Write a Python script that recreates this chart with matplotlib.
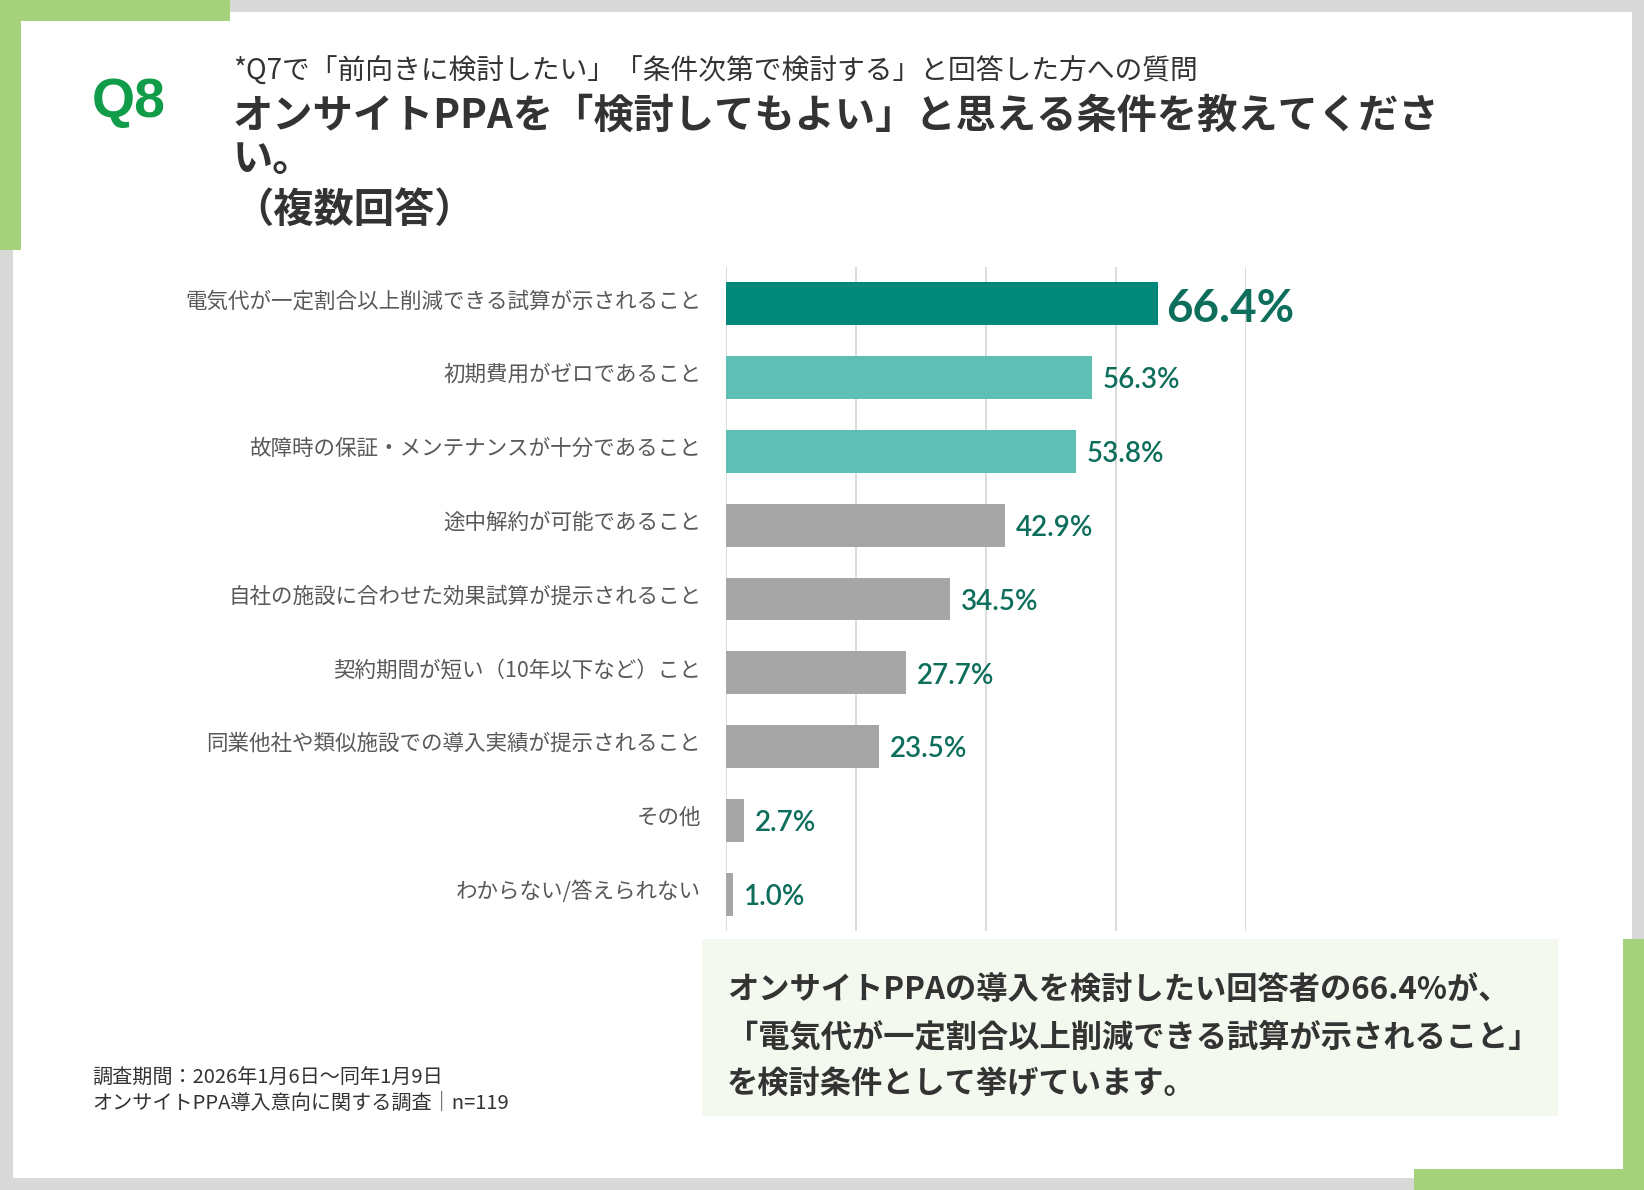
import matplotlib
matplotlib.use("Agg")
import matplotlib.pyplot as plt
from matplotlib.patches import Rectangle

plt.rcParams['font.family'] = ['Noto Sans CJK JP', 'DejaVu Sans']

# data
categories = [
    "電気代が一定割合以上削減できる試算が示されること",
    "初期費用がゼロであること",
    "故障時の保証・メンテナンスが十分であること",
    "途中解約が可能であること",
    "自社の施設に合わせた効果試算が提示されること",
    "契約期間が短い（10年以下など）こと",
    "同業他社や類似施設での導入実績が提示されること",
    "その他",
    "わからない/答えられない",
]
values = [66.4, 56.3, 53.8, 42.9, 34.5, 27.7, 23.5, 2.7, 1.0]
bar_colors = ["#00897a", "#5ebfb5", "#5ebfb5"] + ["#a6a6a6"] * 6

W, H = 1644, 1190
fig = plt.figure(figsize=(W / 100, H / 100), dpi=100)
fig.patch.set_facecolor("#d9d9d9")


def rect(x, y, w, h, color):
    # pixel coords measured from the top-left corner
    fig.add_artist(Rectangle((x / W, 1 - (y + h) / H), w / W, h / H,
                             transform=fig.transFigure, color=color, lw=0, zorder=0))


def txt(x, y, s, **kw):
    fig.text(x / W, 1 - y / H, s, va="center", **kw)


rect(13, 12, 1619, 1166, "white")
green = "#a5d27a"
rect(0, 0, 230, 21, green)
rect(0, 0, 21, 250, green)
rect(1623, 939, 21, 251, green)
rect(1414, 1169, 230, 21, green)
rect(702, 939, 856, 177, "#f4f9ef")

# header
txt(92, 103, "Q8", fontsize=40, fontweight="bold", color="#109c48",
    family=["Liberation Sans", "DejaVu Sans"])
txt(233, 72, "*Q7で「前向きに検討したい」「条件次第で検討する」と回答した方への質問",
    fontsize=20, color="#333333")
txt(233, 116, "オンサイトPPAを「検討してもよい」と思える条件を教えてくださ",
    fontsize=29, fontweight="bold", color="#333333")
txt(233, 160, "い。", fontsize=29, fontweight="bold", color="#333333")
txt(233, 210, "（複数回答）", fontsize=29, fontweight="bold", color="#333333")

# chart
ax = fig.add_axes([726 / W, 1 - 931 / H, 520 / W, 664 / H])
ax.set_facecolor("none")
y = list(range(len(categories)))
ax.barh(y, values, height=0.58, color=bar_colors, zorder=3)
ax.set_xlim(0, 80)
ax.set_ylim(len(categories) - 0.5, -0.5)
ax.set_xticks([0, 20, 40, 60, 80])
ax.xaxis.grid(True, color="#d9d9d9", lw=1.3, zorder=0)
ax.tick_params(axis="x", length=0, labelbottom=False)
ax.set_yticks(y)
ax.set_yticklabels(categories, fontsize=15.5, color="#595959")
ax.tick_params(axis="y", length=0, pad=18)
for lbl in ax.get_yticklabels():
    lbl.set_y(lbl.get_position()[1])
    lbl.set_transform(lbl.get_transform() + matplotlib.transforms.ScaledTranslation(0, 5 / 100, fig.dpi_scale_trans))
for s in ax.spines.values():
    s.set_visible(False)

for i, v in enumerate(values):
    big = i == 0
    ax.annotate(f"{v:.1f}%", (v, i), xytext=(6 if big else 8, -4 if big else -2),
                textcoords="offset points", va="center", ha="left",
                fontsize=33 if big else 20, fontweight="bold" if big else "semibold",
                color="#0e6e5c", family=["Lato", "DejaVu Sans"], zorder=4)

# summary box
txt(727, 990, "オンサイトPPAの導入を検討したい回答者の66.4%が、",
    fontsize=22.5, fontweight="bold", color="#333333")
txt(727, 1038, "「電気代が一定割合以上削減できる試算が示されること」",
    fontsize=22.5, fontweight="bold", color="#333333")
txt(727, 1085, "を検討条件として挙げています。",
    fontsize=22.5, fontweight="bold", color="#333333")

# footer
txt(92, 1078, "調査期間：2026年1月6日～同年1月9日", fontsize=14.5, color="#333333")
txt(92, 1103, "オンサイトPPA導入意向に関する調査│n=119", fontsize=14.5, color="#333333")

fig.savefig("out.png", dpi=100, facecolor=fig.get_facecolor())
